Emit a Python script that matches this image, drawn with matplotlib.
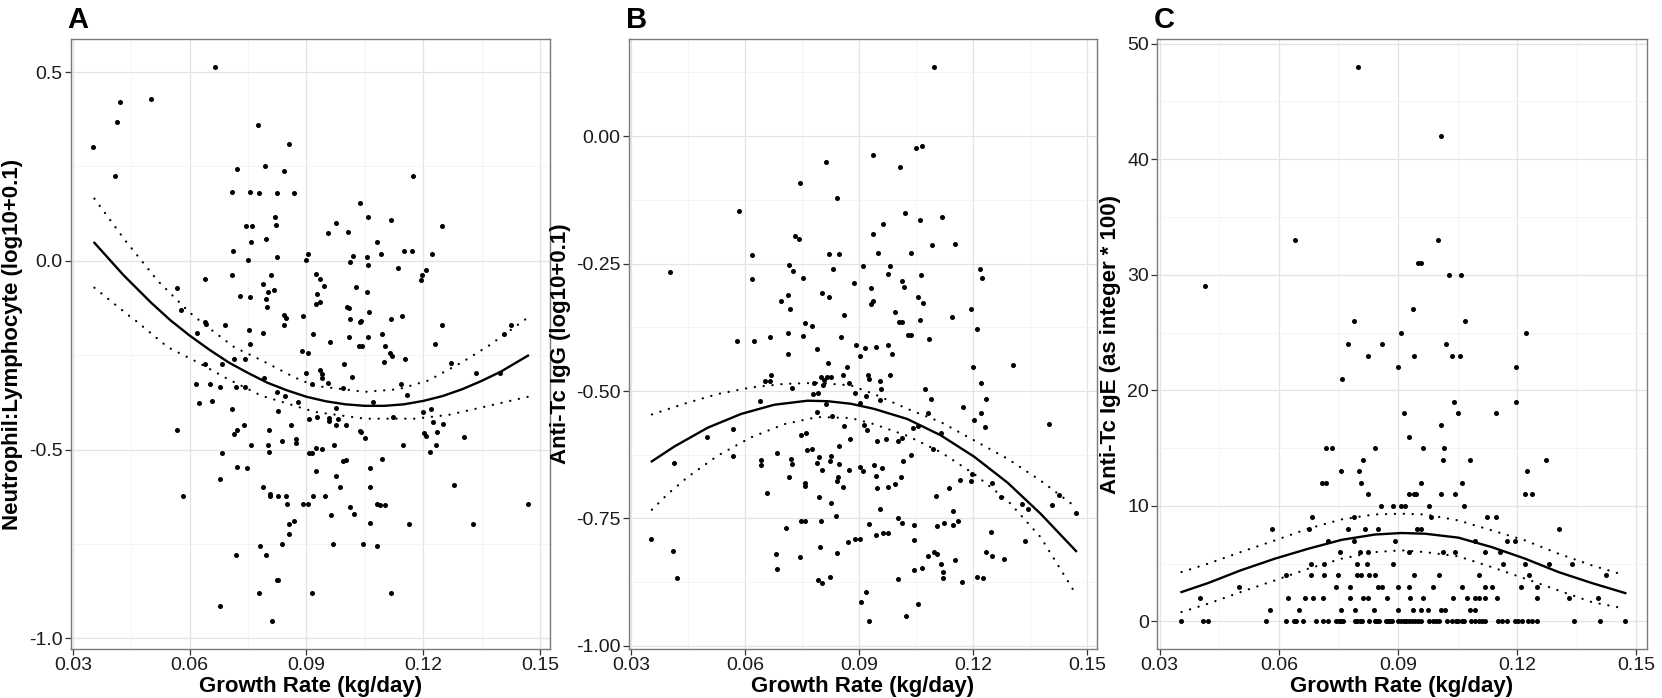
import numpy as np
import matplotlib
matplotlib.use("Agg")
import matplotlib.pyplot as plt
from matplotlib.ticker import MultipleLocator

plt.rcParams['font.family'] = ['Liberation Sans', 'DejaVu Sans']
plt.rcParams['axes.unicode_minus'] = False

# ---------------- data ----------------
# panel A: growth rate vs neutrophil:lymphocyte (log10+0.1)
panel_a = [
    (0.0352, 0.302), (0.0421, 0.42), (0.0413, 0.368), (0.0408, 0.225), (0.050, 0.43),
    (0.0664, 0.514), (0.0776, 0.36), (0.0856, 0.31), (0.0722, 0.243), (0.0794, 0.251),
    (0.0842, 0.238), (0.0709, 0.183), (0.0755, 0.183), (0.0779, 0.18), (0.0824, 0.18),
    (0.0867, 0.18), (0.0818, 0.115), (0.0821, 0.095), (0.0745, 0.092), (0.076, 0.092),
    (0.0758, 0.05), (0.0795, 0.058), (0.0711, 0.027), (0.0751, 0.003), (0.0825, 0.009),
    (0.0638, -0.048), (0.0709, -0.038), (0.0808, -0.038), (0.0789, -0.062), (0.080, -0.082),
    (0.0817, -0.077), (0.073, -0.093), (0.0756, -0.097), (0.0796, -0.10), (0.0799, -0.123),
    (0.0567, -0.071), (0.0577, -0.129), (0.0638, -0.163), (0.0642, -0.168), (0.0691, -0.171),
    (0.0842, -0.143), (0.0847, -0.152), (0.0843, -0.17), (0.0753, -0.183),
    (0.1174, 0.225), (0.1037, 0.154), (0.1059, 0.115), (0.0975, 0.10), (0.0956, 0.074),
    (0.1006, 0.077), (0.1118, 0.108), (0.1249, 0.092), (0.108, 0.05), (0.0903, 0.019),
    (0.090, 0.001), (0.1019, 0.014), (0.1013, -0.002), (0.1055, 0.009), (0.1057, -0.012),
    (0.1092, 0.017), (0.1151, 0.027), (0.1171, 0.027), (0.1222, 0.017), (0.1135, -0.02),
    (0.1208, -0.023), (0.1196, -0.038), (0.1194, -0.051), (0.0925, -0.035), (0.0935, -0.048),
    (0.0946, -0.067), (0.0928, -0.087), (0.0925, -0.114), (0.0935, -0.108), (0.1026, -0.07),
    (0.1055, -0.083), (0.1004, -0.122), (0.1009, -0.124), (0.106, -0.135), (0.089, -0.146),
    (0.1012, -0.153), (0.1039, -0.16), (0.1116, -0.153), (0.1146, -0.146), (0.1249, -0.171),
    (0.1425, -0.171),
    (0.0619, -0.192), (0.0789, -0.192), (0.0756, -0.22), (0.0638, -0.274), (0.0684, -0.274),
    (0.0715, -0.259), (0.0742, -0.259), (0.0616, -0.327), (0.0651, -0.327), (0.0679, -0.335),
    (0.072, -0.335), (0.0742, -0.335), (0.079, -0.31), (0.0624, -0.377), (0.0657, -0.372),
    (0.0708, -0.392), (0.0825, -0.348), (0.0844, -0.357), (0.0827, -0.397), (0.0879, -0.375),
    (0.0567, -0.447), (0.0715, -0.458), (0.0722, -0.447), (0.074, -0.434), (0.0803, -0.447),
    (0.0859, -0.434), (0.0872, -0.471), (0.0872, -0.483), (0.0836, -0.478), (0.0758, -0.489),
    (0.080, -0.489), (0.0804, -0.507), (0.0684, -0.51), (0.0721, -0.546), (0.0747, -0.548),
    (0.0677, -0.578), (0.0583, -0.622), (0.0787, -0.60), (0.0807, -0.617), (0.0806, -0.624),
    (0.0826, -0.622), (0.0847, -0.624), (0.0849, -0.643), (0.0868, -0.69), (0.0856, -0.697),
    (0.0856, -0.723), (0.0836, -0.75), (0.0781, -0.755), (0.0795, -0.78), (0.072, -0.78),
    (0.0823, -0.846), (0.0827, -0.846), (0.0778, -0.88), (0.0679, -0.914), (0.0811, -0.955),
    (0.0917, -0.195), (0.0961, -0.216), (0.1009, -0.202), (0.1034, -0.225), (0.1042, -0.225),
    (0.1057, -0.202), (0.1095, -0.195), (0.1103, -0.225), (0.1038, -0.161), (0.0889, -0.239),
    (0.0903, -0.244), (0.090, -0.296), (0.0915, -0.325), (0.0935, -0.289), (0.094, -0.30),
    (0.094, -0.31), (0.0956, -0.323), (0.0997, -0.272), (0.1016, -0.307), (0.1115, -0.244),
    (0.112, -0.251), (0.1098, -0.267), (0.1153, -0.259), (0.1229, -0.22), (0.1272, -0.27),
    (0.1335, -0.296), (0.1398, -0.298), (0.1407, -0.195), (0.1143, -0.325), (0.1158, -0.356),
    (0.107, -0.374), (0.0993, -0.337), (0.0975, -0.39), (0.0928, -0.414), (0.0958, -0.416),
    (0.0957, -0.423), (0.098, -0.418), (0.0977, -0.434), (0.1001, -0.434), (0.0906, -0.419),
    (0.1123, -0.414), (0.12, -0.40), (0.1219, -0.392), (0.1225, -0.426), (0.125, -0.431),
    (0.1201, -0.457), (0.1208, -0.463), (0.1235, -0.454), (0.1232, -0.487), (0.1217, -0.507),
    (0.1306, -0.466), (0.1037, -0.45), (0.1039, -0.454), (0.105, -0.47), (0.097, -0.487),
    (0.1149, -0.487), (0.0925, -0.495), (0.094, -0.499), (0.0906, -0.51), (0.0914, -0.51),
    (0.0925, -0.556), (0.0995, -0.53), (0.1001, -0.528), (0.1064, -0.548), (0.1093, -0.525),
    (0.0975, -0.571), (0.0987, -0.598), (0.1064, -0.60), (0.089, -0.645), (0.0903, -0.645),
    (0.0917, -0.624), (0.0947, -0.622), (0.1081, -0.643), (0.1088, -0.646), (0.1103, -0.646),
    (0.1279, -0.595), (0.1469, -0.645), (0.1012, -0.653), (0.1022, -0.671), (0.0964, -0.674),
    (0.1064, -0.695), (0.1163, -0.698), (0.1328, -0.698), (0.0968, -0.751), (0.1044, -0.751),
    (0.1082, -0.755), (0.0914, -0.879), (0.1117, -0.879),
]

# panel B: growth rate vs anti-Tc IgG (log10+0.1)
panel_b = [
    (0.0812, -0.051), (0.0743, -0.092), (0.0842, -0.122), (0.0583, -0.147), (0.0731, -0.195),
    (0.0742, -0.201), (0.0619, -0.234), (0.0821, -0.231), (0.0847, -0.231), (0.0715, -0.252),
    (0.0725, -0.265), (0.0832, -0.261), (0.0751, -0.278), (0.0617, -0.28), (0.0402, -0.267),
    (0.0803, -0.307), (0.0821, -0.315), (0.0713, -0.311), (0.0694, -0.323), (0.0719, -0.34),
    (0.086, -0.35), (0.0756, -0.366), (0.0775, -0.373), (0.0713, -0.386), (0.0751, -0.392),
    (0.0852, -0.394), (0.0577, -0.402), (0.0624, -0.402), (0.0665, -0.394), (0.0788, -0.417),
    (0.0713, -0.428),
    (0.1096, 0.136), (0.0937, -0.037), (0.1049, -0.024), (0.1065, -0.020), (0.1007, -0.060),
    (0.102, -0.150), (0.106, -0.165), (0.1118, -0.159), (0.0963, -0.173), (0.0937, -0.192),
    (0.1093, -0.213), (0.1153, -0.211), (0.095, -0.230), (0.1036, -0.230), (0.0909, -0.254),
    (0.0982, -0.254), (0.0976, -0.271), (0.1062, -0.273), (0.1012, -0.284), (0.1018, -0.296),
    (0.0886, -0.288), (0.093, -0.298), (0.0937, -0.323), (0.093, -0.329), (0.1054, -0.316),
    (0.1068, -0.327), (0.1218, -0.260), (0.1223, -0.278), (0.0995, -0.345), (0.1004, -0.365),
    (0.1012, -0.364), (0.106, -0.361), (0.1145, -0.355), (0.1194, -0.340), (0.1209, -0.378),
    (0.1028, -0.390), (0.1036, -0.390), (0.1083, -0.398), (0.0891, -0.41), (0.0914, -0.415),
    (0.0943, -0.413), (0.0976, -0.409), (0.0902, -0.432), (0.0986, -0.428),
    (0.0818, -0.445), (0.0868, -0.452), (0.0668, -0.468), (0.0652, -0.481), (0.0666, -0.481),
    (0.0722, -0.495), (0.078, -0.484), (0.0799, -0.473), (0.0808, -0.478), (0.0815, -0.473),
    (0.0826, -0.473), (0.0804, -0.488), (0.0857, -0.469), (0.0872, -0.485), (0.0779, -0.505),
    (0.0792, -0.503), (0.064, -0.520), (0.0813, -0.525), (0.079, -0.541), (0.0828, -0.549),
    (0.0859, -0.569), (0.0877, -0.595), (0.0568, -0.574), (0.05, -0.590), (0.0748, -0.586),
    (0.0759, -0.582), (0.0762, -0.616), (0.0777, -0.613), (0.0848, -0.608), (0.0569, -0.628),
    (0.0683, -0.622), (0.0412, -0.642), (0.0641, -0.635), (0.0641, -0.646), (0.072, -0.634),
    (0.0723, -0.644), (0.0795, -0.630), (0.0788, -0.641), (0.0803, -0.655), (0.0824, -0.638),
    (0.0826, -0.627), (0.0847, -0.644), (0.0872, -0.655), (0.0715, -0.668), (0.0843, -0.668),
    (0.0841, -0.676), (0.0858, -0.689), (0.0757, -0.680), (0.0756, -0.687), (0.0658, -0.700),
    (0.0795, -0.708), (0.0826, -0.720), (0.0839, -0.745), (0.0746, -0.755), (0.0757, -0.755),
    (0.08, -0.755), (0.0707, -0.769), (0.0353, -0.790), (0.087, -0.796), (0.041, -0.813),
    (0.0797, -0.807), (0.0682, -0.820), (0.0842, -0.818), (0.0743, -0.825), (0.0683, -0.850),
    (0.042, -0.867), (0.0792, -0.871), (0.0803, -0.877), (0.0824, -0.865),
    (0.0922, -0.468), (0.0927, -0.476), (0.098, -0.468), (0.0956, -0.480), (0.0958, -0.497),
    (0.089, -0.503), (0.0918, -0.510), (0.0902, -0.524), (0.0956, -0.518), (0.1073, -0.497),
    (0.1088, -0.516), (0.12, -0.452), (0.1304, -0.448), (0.1220, -0.484), (0.1235, -0.516),
    (0.1173, -0.531), (0.1222, -0.544), (0.1202, -0.557), (0.123, -0.570), (0.1401, -0.564),
    (0.1081, -0.544), (0.1056, -0.569), (0.1041, -0.572), (0.0913, -0.566), (0.092, -0.577),
    (0.0948, -0.599), (0.0971, -0.594), (0.1001, -0.599), (0.1012, -0.592), (0.1116, -0.582),
    (0.1094, -0.614), (0.1036, -0.626), (0.1016, -0.637), (0.094, -0.645), (0.096, -0.651),
    (0.0901, -0.649), (0.091, -0.657), (0.0943, -0.666), (0.0946, -0.691), (0.0976, -0.689),
    (0.0995, -0.683), (0.101, -0.668), (0.1102, -0.705), (0.1137, -0.691), (0.1165, -0.674),
    (0.1195, -0.676), (0.1197, -0.663), (0.1251, -0.680), (0.1274, -0.708), (0.133, -0.721),
    (0.1344, -0.732), (0.1409, -0.724), (0.1425, -0.704), (0.1471, -0.740), (0.0956, -0.732),
    (0.1002, -0.749), (0.1012, -0.759), (0.1043, -0.763), (0.1104, -0.765), (0.1124, -0.758),
    (0.1147, -0.736), (0.1147, -0.763), (0.1161, -0.755), (0.0926, -0.761), (0.0943, -0.782),
    (0.0963, -0.778), (0.0977, -0.778), (0.0889, -0.790), (0.0902, -0.790), (0.1043, -0.792),
    (0.1248, -0.776), (0.1336, -0.794), (0.108, -0.823), (0.1097, -0.815), (0.1104, -0.820),
    (0.1116, -0.840), (0.112, -0.856), (0.1121, -0.867), (0.1153, -0.831), (0.1235, -0.815),
    (0.1251, -0.823), (0.1282, -0.829), (0.1065, -0.848), (0.1043, -0.852), (0.1003, -0.869),
    (0.117, -0.875), (0.121, -0.865), (0.1226, -0.867), (0.0918, -0.894), (0.0906, -0.914),
    (0.0927, -0.952), (0.1056, -0.918), (0.1023, -0.941),
]

# panel C: growth rate vs anti-Tc IgE (integer * 100)
panel_c = [
    (0.080, 48), (0.1008, 42), (0.0641, 33), (0.1001, 33), (0.0951, 31), (0.0959, 31),
    (0.1029, 30), (0.1058, 30), (0.0413, 29), (0.0937, 27), (0.079, 26), (0.1068, 26),
    (0.0908, 25), (0.1221, 25), (0.0775, 24), (0.0859, 24), (0.1021, 24),
    (0.0825, 23), (0.0941, 23), (0.1035, 23), (0.1056, 23), (0.0901, 22), (0.1197, 22),
    (0.076, 21), (0.104, 19), (0.1197, 19), (0.0916, 18), (0.105, 18), (0.1146, 18),
    (0.1007, 17), (0.0927, 16),
    (0.072, 15), (0.0733, 15), (0.0842, 15), (0.0964, 15), (0.1015, 15),
    (0.0813, 14), (0.1013, 14), (0.108, 14), (0.1273, 14),
    (0.0757, 13), (0.0802, 13), (0.1224, 13),
    (0.0708, 12), (0.072, 12), (0.0808, 12), (0.0957, 12), (0.1061, 12),
    (0.0825, 11), (0.0927, 11), (0.094, 11), (0.0945, 11), (0.1008, 11), (0.1043, 11),
    (0.1219, 11), (0.1237, 11),
    (0.0856, 10), (0.0888, 10), (0.0908, 10), (0.0918, 10), (0.0977, 10), (0.1066, 10),
    (0.0683, 9), (0.079, 9), (0.0982, 9), (0.1125, 9), (0.1147, 9),
    (0.0584, 8), (0.0676, 8), (0.0775, 8), (0.0817, 8), (0.0849, 8), (0.0947, 8),
    (0.0959, 8), (0.1306, 8),
    (0.0725, 7), (0.079, 7), (0.0892, 7), (0.1094, 7), (0.1174, 7), (0.1194, 7),
    (0.0753, 6), (0.0804, 6), (0.0825, 6), (0.0928, 6), (0.1014, 6), (0.1044, 6),
    (0.112, 6), (0.1156, 6),
    (0.068, 5), (0.0714, 5), (0.0798, 5), (0.0822, 5), (0.0887, 5), (0.1165, 5),
    (0.1219, 5), (0.1281, 5), (0.1338, 5),
    (0.0619, 4), (0.068, 4), (0.0714, 4), (0.0748, 4), (0.0796, 4), (0.0806, 4),
    (0.0828, 4), (0.0842, 4), (0.0941, 4), (0.1003, 4), (0.1103, 4), (0.1229, 4), (0.1424, 4),
    (0.05, 3), (0.0743, 3), (0.078, 3), (0.0849, 3), (0.0859, 3), (0.0901, 3), (0.0927, 3),
    (0.0988, 3), (0.1061, 3), (0.1118, 3), (0.1136, 3), (0.1209, 3), (0.1249, 3),
    (0.0401, 2), (0.0624, 2), (0.0666, 2), (0.0686, 2), (0.071, 2), (0.078, 2), (0.0813, 2),
    (0.0825, 2), (0.0872, 2), (0.0929, 2), (0.0964, 2), (0.1038, 2), (0.1073, 2),
    (0.1093, 2), (0.1104, 2), (0.1118, 2), (0.1148, 2), (0.1249, 2), (0.133, 2), (0.1403, 2),
    (0.0579, 1), (0.0651, 1), (0.0757, 1), (0.0793, 1), (0.084, 1), (0.0901, 1), (0.0937, 1),
    (0.0958, 1), (0.0975, 1), (0.1009, 1), (0.1019, 1), (0.1082, 1), (0.1093, 1),
    (0.0354, 0), (0.0409, 0), (0.0421, 0), (0.0568, 0), (0.0617, 0), (0.0638, 0), (0.0644, 0),
    (0.066, 0), (0.0694, 0), (0.0712, 0), (0.0725, 0), (0.0743, 0), (0.0752, 0), (0.0757, 0),
    (0.0761, 0), (0.0792, 0), (0.0798, 0), (0.0805, 0), (0.081, 0), (0.0828, 0), (0.0842, 0),
    (0.0847, 0), (0.0852, 0), (0.0869, 0), (0.0876, 0), (0.0881, 0), (0.0886, 0), (0.0901, 0),
    (0.0908, 0), (0.0914, 0), (0.0921, 0), (0.0928, 0), (0.0935, 0), (0.0943, 0), (0.0951, 0),
    (0.0958, 0), (0.0978, 0), (0.0988, 0), (0.0996, 0), (0.1002, 0), (0.1023, 0), (0.1035, 0),
    (0.1045, 0), (0.1052, 0), (0.1061, 0), (0.1067, 0), (0.1083, 0), (0.1093, 0), (0.1103, 0),
    (0.1111, 0), (0.1119, 0), (0.1151, 0), (0.1162, 0), (0.1174, 0), (0.1195, 0), (0.1203, 0),
    (0.1212, 0), (0.1227, 0), (0.1237, 0), (0.1249, 0), (0.1343, 0), (0.1408, 0), (0.1472, 0),
]

# fitted curves and 95% bands: (x, value)
fit_a = [(0.0355, 0.048), (0.043, -0.038), (0.050, -0.110), (0.055, -0.157), (0.060, -0.198),
         (0.065, -0.235), (0.070, -0.269), (0.075, -0.297), (0.080, -0.323), (0.085, -0.343),
         (0.090, -0.360), (0.095, -0.372), (0.100, -0.380), (0.105, -0.384), (0.110, -0.384),
         (0.115, -0.380), (0.120, -0.371), (0.125, -0.358), (0.130, -0.340), (0.135, -0.318),
         (0.140, -0.293), (0.1469, -0.251)]
upper_a = [(0.0355, 0.165), (0.0432, 0.057), (0.0518, -0.053), (0.0600, -0.137), (0.0647, -0.176),
           (0.0715, -0.229), (0.0784, -0.263), (0.0870, -0.309), (0.0921, -0.331), (0.1050, -0.347),
           (0.1136, -0.340), (0.1213, -0.317), (0.1299, -0.269), (0.1368, -0.225), (0.1445, -0.168),
           (0.1469, -0.150)]
lower_a = [(0.0355, -0.071), (0.0441, -0.143), (0.0462, -0.159), (0.0544, -0.229), (0.0621, -0.269),
           (0.0698, -0.313), (0.0784, -0.357), (0.0870, -0.384), (0.0921, -0.400), (0.1050, -0.418),
           (0.1179, -0.418), (0.1265, -0.408), (0.1351, -0.388), (0.1469, -0.360)]

fit_b = [(0.0354, -0.638), (0.0413, -0.609), (0.0501, -0.572), (0.0589, -0.545), (0.0676, -0.527),
         (0.0764, -0.519), (0.0817, -0.520), (0.0878, -0.525), (0.0939, -0.535), (0.1027, -0.555),
         (0.1115, -0.587), (0.1203, -0.629), (0.1291, -0.680), (0.1378, -0.741), (0.1471, -0.814)]
upper_b = [(0.0354, -0.546), (0.0439, -0.525), (0.0527, -0.506), (0.0615, -0.493), (0.0703, -0.486),
           (0.0790, -0.484), (0.0878, -0.489), (0.0939, -0.506), (0.1027, -0.535), (0.1115, -0.561),
           (0.1203, -0.597), (0.1291, -0.633), (0.1378, -0.676), (0.1471, -0.728)]
lower_b = [(0.0354, -0.733), (0.0396, -0.702), (0.0448, -0.669), (0.0527, -0.627), (0.0615, -0.591),
           (0.0703, -0.565), (0.0790, -0.551), (0.0878, -0.553), (0.0939, -0.565), (0.1027, -0.588),
           (0.1115, -0.620), (0.1203, -0.663), (0.1291, -0.715), (0.1378, -0.787), (0.1471, -0.899)]

fit_c = [(0.0355, 2.54), (0.0422, 3.32), (0.0504, 4.42), (0.0590, 5.43), (0.0674, 6.29),
         (0.0758, 7.06), (0.0842, 7.52), (0.0909, 7.65), (0.0968, 7.59), (0.1052, 7.25),
         (0.1136, 6.43), (0.1220, 5.43), (0.1304, 4.27), (0.1388, 3.32), (0.1472, 2.45)]
upper_c = [(0.0355, 4.27), (0.0422, 5.00), (0.0504, 6.00), (0.0590, 7.01), (0.0674, 8.03),
           (0.0758, 8.83), (0.0842, 9.26), (0.0909, 9.32), (0.0968, 9.26), (0.1052, 8.74),
           (0.1136, 7.88), (0.1220, 7.01), (0.1304, 5.86), (0.1388, 4.85), (0.1472, 3.98)]
lower_c = [(0.0355, 0.81), (0.0422, 1.53), (0.0504, 2.54), (0.0590, 3.55), (0.0674, 4.56),
           (0.0758, 5.43), (0.0842, 6.00), (0.0909, 6.15), (0.0968, 6.00), (0.1052, 5.63),
           (0.1136, 4.70), (0.1220, 3.70), (0.1304, 2.68), (0.1388, 1.67), (0.1472, 1.10)]

panel_letters = ['A', 'B', 'C']
y_titles = ['Neutrophil:Lymphocyte (log10+0.1)',
            'Anti-Tc IgG (log10+0.1)',
            'Anti-Tc IgE (as integer * 100)']
x_title = 'Growth Rate (kg/day)'
x_ticks = [0.03, 0.06, 0.09, 0.12, 0.15]
y_ticks = [[-1.0, -0.5, 0.0, 0.5],
           [-1.0, -0.75, -0.5, -0.25, 0.0],
           [0, 10, 20, 30, 40, 50]]
y_fmt = ['{:.1f}', '{:.2f}', '{:.0f}']

points = [panel_a, panel_b, panel_c]
fits = [fit_a, fit_b, fit_c]
uppers = [upper_a, upper_b, upper_c]
lowers = [lower_a, lower_b, lower_c]

fig = plt.figure(figsize=(16.62, 6.98), dpi=100)
lefts = [0.0425, 0.3785, 0.6963]
rights = [0.3310, 0.6600, 0.9908]
bottom, top = 0.070, 0.944

for i in range(3):
    ax = fig.add_axes([lefts[i], bottom, rights[i] - lefts[i], top - bottom])
    x = np.array([p[0] for p in points[i]])
    y = np.array([p[1] for p in points[i]], dtype=float)

    ax.scatter(x, y, s=13, color='black', linewidths=0, zorder=3)
    fx, fy = zip(*fits[i])
    ax.plot(fx, fy, color='black', lw=1.7, zorder=4, solid_joinstyle='round')
    for band in (uppers[i], lowers[i]):
        bx, by = zip(*band)
        ax.plot(bx, by, color='black', lw=1.6, ls=(0, (0.1, 3.9)),
                dash_capstyle='round', zorder=4)

    # ggplot-like 5% expansion
    yr = y.max() - y.min()
    ax.set_xlim(0.0294, 0.1526)
    ax.set_ylim(y.min() - 0.05 * yr, y.max() + 0.05 * yr)

    ax.set_xticks(x_ticks)
    ax.set_xticklabels(['{:.2f}'.format(t) for t in x_ticks])
    ax.set_yticks(y_ticks[i])
    ax.set_yticklabels([y_fmt[i].format(t) for t in y_ticks[i]])
    ax.xaxis.set_minor_locator(MultipleLocator(0.015))
    step = y_ticks[i][1] - y_ticks[i][0]
    ax.yaxis.set_minor_locator(MultipleLocator(step / 2))

    ax.grid(True, which='major', color='#e3e3e3', lw=0.9, zorder=0)
    ax.grid(True, which='minor', color='#f2f2f2', lw=0.6, zorder=0)
    ax.set_axisbelow(True)
    for s in ax.spines.values():
        s.set_color('#7a7a7a')
        s.set_linewidth(1.0)
    ax.tick_params(which='major', length=4, width=0.9, color='#333333',
                   labelsize=14, labelcolor='#1a1a1a', pad=2)
    ax.tick_params(which='minor', length=0)

    ax.set_xlabel(x_title, fontsize=16, fontweight='bold', labelpad=1)
    ax.set_ylabel(y_titles[i], fontsize=16, fontweight='bold', labelpad=4)
    fig.text(lefts[i] - 0.002, 0.972, panel_letters[i], fontsize=21,
             fontweight='bold', ha='left', va='center')

fig.savefig('out.png', dpi=100)
